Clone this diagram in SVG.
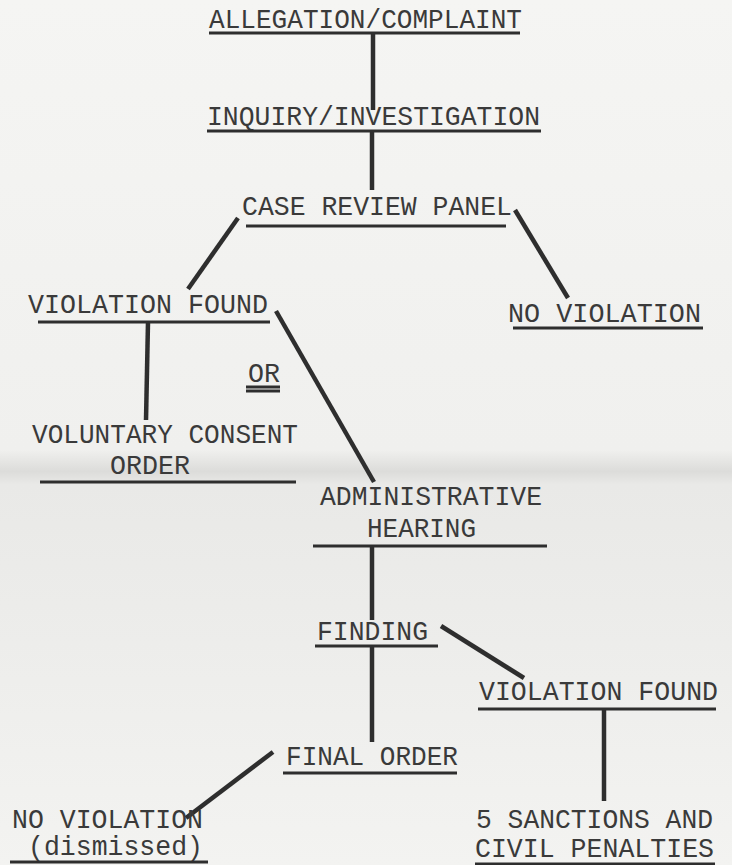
<svg xmlns="http://www.w3.org/2000/svg" width="732" height="865" viewBox="0 0 732 865">
<defs>
<linearGradient id="bg" x1="0" y1="0" x2="0" y2="1">
<stop offset="0" stop-color="#f5f5f3"/>
<stop offset="0.52" stop-color="#f0f0ee"/>
<stop offset="0.545" stop-color="#dcdcda"/>
<stop offset="0.56" stop-color="#e9e9e7"/>
<stop offset="0.7" stop-color="#ececea"/>
<stop offset="1" stop-color="#f3f3f1"/>
</linearGradient>
<style>
text{font-family:"Liberation Mono","Courier New",monospace;font-size:27px;fill:#3a3a3a;}
.u{stroke:#2e2e2e;stroke-width:3;fill:none;}
.c{stroke:#2e2e2e;stroke-width:4.5;fill:none;stroke-linecap:butt;}
</style>
</defs>
<rect width="732" height="865" fill="url(#bg)"/>
<g id="connectors">
<line class="c" x1="373" y1="34" x2="373" y2="110"/>
<line class="c" x1="372" y1="131" x2="372" y2="190"/>
<line class="c" x1="238" y1="218" x2="188" y2="289"/>
<line class="c" x1="515" y1="210" x2="568" y2="298"/>
<line class="c" x1="148" y1="322" x2="146" y2="420"/>
<line class="c" x1="276" y1="311" x2="374" y2="482"/>
<line class="c" x1="372" y1="546" x2="372" y2="620"/>
<line class="c" x1="372" y1="646" x2="372" y2="742"/>
<line class="c" x1="441" y1="626" x2="524" y2="678"/>
<line class="c" x1="604" y1="709" x2="604" y2="801"/>
<line class="c" x1="273" y1="752" x2="186" y2="818"/>
</g>
<g id="allegation">
<text x="209" y="28" textLength="313" lengthAdjust="spacingAndGlyphs">ALLEGATION/COMPLAINT</text>
<line class="u" x1="209" y1="33" x2="520" y2="33"/>
</g>
<g id="inquiry">
<text x="207" y="125" textLength="333" lengthAdjust="spacingAndGlyphs">INQUIRY/INVESTIGATION</text>
<line class="u" x1="207" y1="131" x2="541" y2="131"/>
</g>
<g id="case-review">
<text x="242" y="215" textLength="270" lengthAdjust="spacingAndGlyphs">CASE REVIEW PANEL</text>
<line class="u" x1="246" y1="226" x2="506" y2="226"/>
</g>
<g id="violation-found-1">
<text x="28" y="313" textLength="240" lengthAdjust="spacingAndGlyphs">VIOLATION FOUND</text>
<line class="u" x1="38" y1="322" x2="270" y2="322"/>
</g>
<g id="no-violation-1">
<text x="508" y="322" textLength="193" lengthAdjust="spacingAndGlyphs">NO VIOLATION</text>
<line class="u" x1="513" y1="328" x2="703" y2="328"/>
</g>
<g id="or">
<text x="248" y="382" textLength="32" lengthAdjust="spacingAndGlyphs">OR</text>
<line class="u" x1="246" y1="387" x2="280" y2="387"/>
<line class="u" x1="246" y1="391" x2="280" y2="391"/>
</g>
<g id="consent-order">
<text x="32" y="443" textLength="266" lengthAdjust="spacingAndGlyphs">VOLUNTARY CONSENT</text>
<text x="110" y="474" textLength="80" lengthAdjust="spacingAndGlyphs">ORDER</text>
<line class="u" x1="40" y1="482" x2="296" y2="482"/>
</g>
<g id="admin-hearing">
<text x="320" y="505" textLength="222" lengthAdjust="spacingAndGlyphs">ADMINISTRATIVE</text>
<text x="367" y="537" textLength="109" lengthAdjust="spacingAndGlyphs">HEARING</text>
<line class="u" x1="313" y1="546" x2="547" y2="546"/>
</g>
<g id="finding">
<text x="317" y="640" textLength="111" lengthAdjust="spacingAndGlyphs">FINDING</text>
<line class="u" x1="315" y1="646" x2="438" y2="646"/>
</g>
<g id="violation-found-2">
<text x="479" y="700" textLength="239" lengthAdjust="spacingAndGlyphs">VIOLATION FOUND</text>
<line class="u" x1="478" y1="709" x2="716" y2="709"/>
</g>
<g id="final-order">
<text x="286" y="765" textLength="172" lengthAdjust="spacingAndGlyphs">FINAL ORDER</text>
<line class="u" x1="283" y1="773" x2="457" y2="773"/>
</g>
<g id="no-violation-2">
<text x="12" y="828" textLength="191" lengthAdjust="spacingAndGlyphs">NO VIOLATION</text>
<text x="28" y="855" textLength="175" lengthAdjust="spacingAndGlyphs">(dismissed)</text>
<line class="u" x1="10" y1="862" x2="208" y2="862"/>
</g>
<g id="sanctions">
<text x="476" y="828" textLength="237" lengthAdjust="spacingAndGlyphs">5 SANCTIONS AND</text>
<text x="475" y="857" textLength="239" lengthAdjust="spacingAndGlyphs">CIVIL PENALTIES</text>
<line class="u" x1="475" y1="864" x2="715" y2="864"/>
</g>
</svg>
